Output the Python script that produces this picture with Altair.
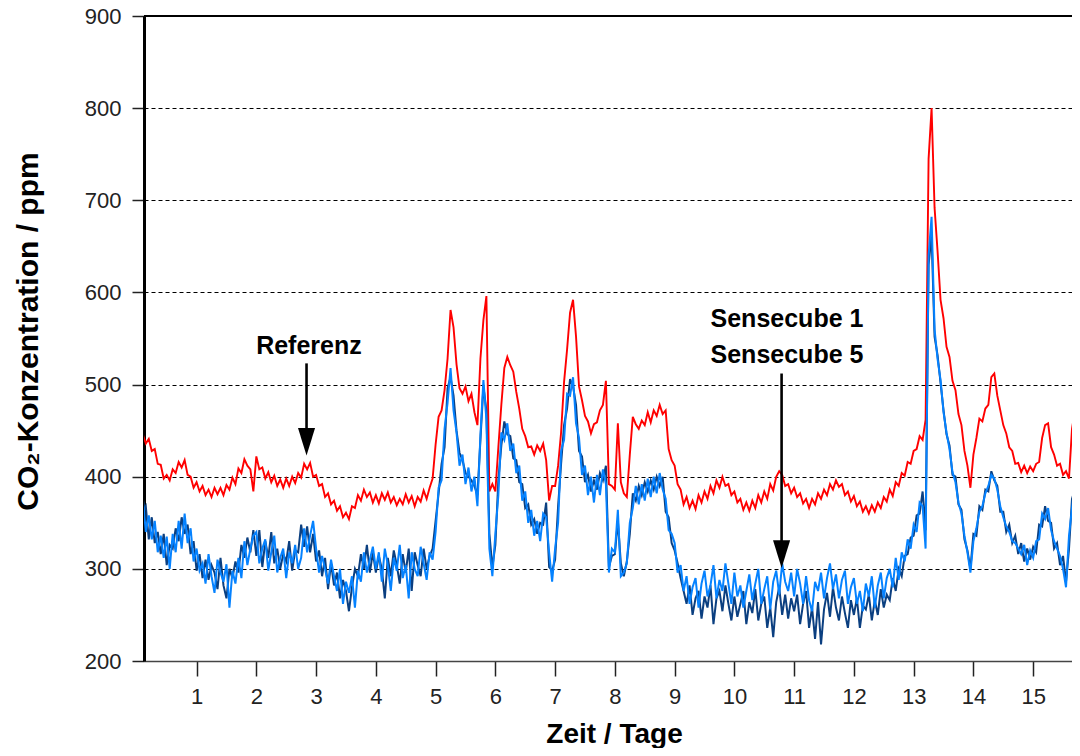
import altair as alt
import pandas as pd

# ---- sampling of the time axis (days) ----
T0 = 0.10
DT = 0.05

# ---- series values (ppm), one row per day ----
REFERENZ = [
    446, 436, 441, 428, 430, 414, 413, 398, 402, 396, 408, 404, 416, 410, 418, 402, 400, 388,
    394, 384, 390, 380, 386, 378, 388, 381, 388, 380, 391, 386, 399, 392, 409, 404, 419, 412, 408, 384,
    422, 408, 410, 398, 405, 394, 401, 390, 397, 388, 398, 390, 400, 393, 404, 399, 414, 408, 415, 400,
    402, 390, 392, 378, 382, 370, 374, 363, 368, 356, 361, 354, 368, 366, 380, 374, 386, 378, 383, 372,
    380, 371, 382, 375, 383, 372, 378, 369, 376, 370, 381, 372, 379, 368, 378, 373, 385, 376, 388, 398,
    435, 465, 472, 494, 528, 581, 562, 522, 496, 490, 498, 482, 490, 470, 456, 528, 570, 596, 384, 392,
    384, 432, 478, 518, 530, 521, 514, 492, 474, 452, 444, 432, 433, 424, 434, 428, 436, 418, 374, 390,
    390, 412, 448, 503, 538, 578, 592, 552, 498, 483, 466, 460, 447, 457, 459, 472, 478, 504, 392, 390,
    386, 458, 394, 382, 378, 424, 465, 457, 452, 461, 456, 470, 459, 472, 466, 478, 468, 472, 430, 418,
    412, 392, 386, 370, 378, 366, 374, 365, 380, 372, 384, 376, 390, 382, 396, 388, 400, 390, 392, 380,
    384, 372, 376, 364, 372, 363, 374, 366, 380, 372, 384, 376, 392, 385, 400, 406, 402, 390, 392, 382,
    388, 378, 382, 371, 376, 366, 376, 370, 382, 376, 386, 380, 392, 386, 396, 389, 392, 380, 384, 373,
    379, 368, 373, 362, 368, 360, 369, 362, 372, 366, 378, 373, 386, 379, 394, 390, 404, 401, 416, 414,
    428, 430, 444, 440, 462, 745, 800, 692, 645, 592, 572, 541, 530, 504, 494, 468, 456, 428, 412, 388,
    424, 442, 463, 460, 474, 478, 508, 512, 488, 472, 456, 447, 432, 428, 414, 415, 405, 412, 404, 411,
    406, 414, 416, 442, 456, 458, 432, 424, 412, 414, 402, 406, 398, 452, 472, 504, 530,
]

SENSECUBE1 = [
    362, 368, 332, 356, 328, 340, 316, 338, 304, 326, 322, 344, 330, 356, 338, 348, 316, 330,
    298, 316, 290, 310, 288, 304, 296, 278, 312, 282, 268, 300, 290, 308, 296, 326, 312, 334, 318, 342,
    314, 342, 302, 330, 312, 340, 306, 322, 300, 316, 308, 330, 298, 320, 318, 348, 324, 346, 318, 338,
    308, 320, 292, 312, 278, 306, 282, 296, 268, 288, 276, 254, 280, 300, 292, 316, 300, 326, 296, 318,
    296, 314, 300, 268, 312, 292, 320, 304, 284, 316, 296, 322, 276, 318, 304, 292, 322, 300, 314, 322,
    352, 382, 414, 432, 496, 508, 488, 450, 426, 418, 404, 400, 396, 390, 380, 440, 498, 472, 338, 302,
    326, 396, 434, 460, 446, 444, 420, 418, 394, 392, 366, 370, 348, 354, 338, 350, 348, 372, 302, 298,
    310, 368, 414, 456, 474, 506, 498, 478, 428, 422, 394, 402, 384, 396, 386, 404, 396, 412, 302, 314,
    316, 352, 306, 292, 308, 338, 382, 374, 390, 380, 394, 384, 396, 386, 400, 390, 400, 362, 356, 328,
    320, 306, 290, 276, 262, 282, 250, 268, 276, 246, 270, 258, 282, 240, 268, 276, 254, 282, 262, 244,
    270, 248, 262, 276, 240, 264, 252, 278, 244, 262, 270, 236, 258, 226, 264, 280, 250, 272, 246, 268,
    254, 272, 240, 262, 276, 236, 258, 224, 264, 218, 256, 274, 248, 280, 258, 244, 270, 252, 236, 266,
    250, 268, 236, 260, 256, 272, 244, 266, 250, 278, 258, 272, 266, 290, 276, 300, 292, 314, 316, 334,
    336, 358, 360, 384, 342, 630, 662, 552, 532, 502, 472, 446, 434, 402, 400, 370, 364, 332, 320, 300,
    338, 336, 368, 364, 386, 384, 406, 396, 390, 362, 362, 340, 348, 328, 336, 316, 328, 308, 322, 310,
    324, 318, 348, 346, 368, 352, 350, 322, 328, 304, 314, 286, 322, 376, 386, 414, 426,
]

SENSECUBE5 = [
    378, 340, 358, 332, 352, 318, 336, 312, 335, 300, 338, 318, 352, 322, 360, 328, 344, 308,
    322, 298, 306, 284, 316, 292, 274, 310, 296, 286, 305, 258, 298, 284, 312, 290, 330, 304, 322, 336,
    340, 306, 322, 332, 298, 318, 336, 296, 312, 322, 290, 318, 306, 326, 300, 312, 344, 318, 336, 352,
    322, 296, 314, 300, 284, 310, 292, 276, 300, 262, 286, 274, 292, 258, 298, 286, 318, 296, 310, 324,
    300, 318, 286, 322, 304, 276, 312, 298, 326, 290, 304, 268, 318, 300, 292, 324, 306, 288, 318, 310,
    340, 388, 396, 452, 480, 518, 472, 448, 412, 424, 392, 410, 384, 400, 368, 445, 505, 462, 322, 292,
    338, 380, 448, 440, 458, 428, 436, 404, 412, 374, 384, 350, 364, 336, 352, 330, 360, 356, 318, 286,
    322, 350, 428, 440, 490, 488, 508, 458, 442, 402, 412, 380, 400, 372, 402, 380, 408, 392, 296, 322,
    318, 364, 292, 296, 306, 350, 366, 390, 370, 392, 374, 398, 378, 400, 382, 404, 386, 376, 342, 338,
    328, 296, 304, 276, 292, 262, 280, 290, 258, 284, 298, 270, 282, 304, 268, 288, 276, 306, 284, 262,
    296, 270, 282, 258, 276, 294, 266, 284, 300, 262, 278, 292, 256, 286, 298, 272, 306, 286, 276, 296,
    270, 300, 284, 262, 292, 266, 254, 286, 276, 296, 268, 290, 306, 278, 294, 268, 288, 298, 262, 280,
    290, 262, 276, 254, 284, 270, 292, 258, 282, 296, 268, 290, 300, 280, 312, 288, 318, 308, 332, 322,
    348, 340, 372, 368, 322, 640, 682, 560, 528, 505, 470, 448, 430, 405, 394, 372, 360, 336, 318, 296,
    330, 344, 362, 368, 382, 390, 402, 398, 386, 368, 356, 346, 340, 330, 328, 322, 316, 326, 304, 320,
    312, 330, 332, 360, 354, 366, 342, 330, 322, 314, 300, 280, 336, 366, 396, 402, 438,
]

X_TICKS = list(range(1, 16))
Y_TICKS = list(range(200, 901, 100))
X_DOMAIN = [0.12, 15.65]
Y_DOMAIN = [200, 900]

# annotations
LABELS = ["Referenz", "Sensecube 1", "Sensecube 5"]
LABEL_DAY = [2.88, 10.88, 10.88]
LABEL_VALUE = [542, 571, 532]
ARROW_DAY = [2.84, 10.79]
ARROW_FROM = [523, 512]
ARROW_TO = [451, 330]
ARROW_HEAD = [438, 316]

FONT = "Liberation Sans"


def series_frame(values):
    return pd.DataFrame({
        "day": [round(T0 + DT * i, 2) for i in range(len(values))],
        "value": values,
    })


X_ENC = alt.X(
    "day:Q",
    scale=alt.Scale(domain=X_DOMAIN, nice=False, zero=False),
    axis=alt.Axis(
        values=X_TICKS, format="d", grid=False,
        tickSize=15, tickWidth=1.5, tickColor="#222",
        domainColor="#444", domainWidth=1.6,
        labelFont=FONT, labelFontSize=22, labelColor="#222", labelPadding=10,
        labelFlush=False,
        title="Zeit / Tage", titleFont=FONT, titleFontSize=28, titleFontWeight="bold",
        titleColor="black", titleX=470, titleY=81, titleBaseline="alphabetic",
        titleAnchor="middle",
    ),
)

Y_ENC = alt.Y(
    "value:Q",
    scale=alt.Scale(domain=Y_DOMAIN, nice=False, zero=False),
    axis=alt.Axis(
        values=Y_TICKS, format="d", grid=True,
        gridColor="black", gridDash=[4, 3], gridWidth=1,
        tickSize=12, tickWidth=1.5, tickColor="#222",
        domainColor="black", domainWidth=3,
        labelFont=FONT, labelFontSize=22, labelColor="#222", labelPadding=11,
        labelFlush=False,
        title="CO₂-Konzentration / ppm", titleFont=FONT, titleFontSize=30,
        titleFontWeight="bold", titleColor="black",
        titleX=-107, titleY=315, titleBaseline="alphabetic", titleAnchor="middle",
    ),
)

red = alt.Chart(series_frame(REFERENZ)).mark_line(
    color="#FF0000", strokeWidth=1.9, clip=True
).encode(x=X_ENC, y=Y_ENC)

dark = alt.Chart(series_frame(SENSECUBE1)).mark_line(
    color="#0B3F80", strokeWidth=2.0, clip=True
).encode(x=X_ENC, y=Y_ENC)

light = alt.Chart(series_frame(SENSECUBE5)).mark_line(
    color="#0582FF", strokeWidth=2.0, clip=True
).encode(x=X_ENC, y=Y_ENC)

top_border = alt.Chart(pd.DataFrame({"value": [Y_DOMAIN[1]]})).mark_rule(
    color="black", strokeWidth=2
).encode(y=Y_ENC)

labels_df = pd.DataFrame({"day": LABEL_DAY, "value": LABEL_VALUE, "label": LABELS})
labels = alt.Chart(labels_df).mark_text(
    font=FONT, fontSize=25, fontWeight="bold", color="black",
    align="center", baseline="middle"
).encode(x=X_ENC, y=Y_ENC, text="label:N")

arrow_df = pd.DataFrame({"day": ARROW_DAY, "value": ARROW_FROM, "value2": ARROW_TO})
arrow_lines = alt.Chart(arrow_df).mark_rule(color="black", strokeWidth=2.6).encode(
    x=X_ENC, y=Y_ENC, y2="value2:Q"
)

head_df = pd.DataFrame({"day": ARROW_DAY, "value": ARROW_HEAD})
arrow_heads = alt.Chart(head_df).mark_point(
    shape="M-0.62,-1L0.62,-1L0,1Z", filled=True, size=760,
    color="black", opacity=1, strokeWidth=0
).encode(x=X_ENC, y=Y_ENC)

chart = alt.layer(
    red, dark, light, top_border, arrow_lines, arrow_heads, labels
).properties(
    width=928,
    height=645,
    autosize=alt.AutoSizeParams(type="none"),
    padding={"left": 136, "top": 8, "right": 0, "bottom": 87},
    background="white",
).configure_view(stroke=None)

chart.save("out.html", embed_options={"renderer": "svg", "actions": False})
